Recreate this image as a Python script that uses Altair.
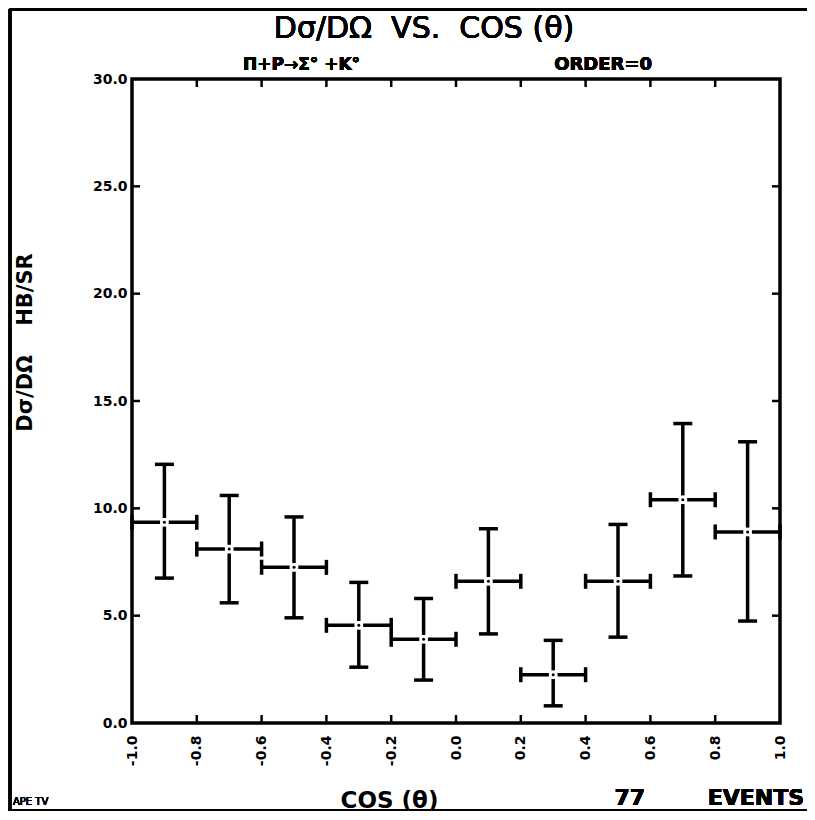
import altair as alt
import pandas as pd

# ---- data ----
cos_center = [-0.9, -0.7, -0.5, -0.3, -0.1, 0.1, 0.3, 0.5, 0.7, 0.9]
cos_low = [-1.0, -0.8, -0.6, -0.4, -0.2, 0.0, 0.2, 0.4, 0.6, 0.8]
cos_high = [-0.8, -0.6, -0.4, -0.2, 0.0, 0.2, 0.4, 0.6, 0.8, 1.0]
dsigma = [9.35, 8.1, 7.25, 4.55, 3.9, 6.6, 2.25, 6.6, 10.4, 8.9]
dsigma_low = [6.75, 5.6, 4.9, 2.6, 2.0, 4.15, 0.8, 4.0, 6.85, 4.75]
dsigma_high = [12.05, 10.6, 9.6, 6.55, 5.8, 9.05, 3.85, 9.25, 13.95, 13.1]
x_tick_values = [-1.0, -0.8, -0.6, -0.4, -0.2, 0.0, 0.2, 0.4, 0.6, 0.8, 1.0]
y_tick_values = [0.0, 5.0, 10.0, 15.0, 20.0, 25.0, 30.0]
x_inner_ticks = [-0.8, -0.6, -0.4, -0.2, 0.0, 0.2, 0.4, 0.6, 0.8]
y_inner_ticks = [5.0, 10.0, 15.0, 20.0, 25.0]

W, H = 648, 644
FONT = "DejaVu Sans"
NB = "\u00a0"

df = pd.DataFrame({
    "c": cos_center, "xl": cos_low, "xh": cos_high,
    "v": dsigma, "lo": dsigma_low, "hi": dsigma_high,
})
xt = pd.DataFrame({"t": x_inner_ticks})
yt = pd.DataFrame({"t": y_inner_ticks})

xs = alt.Scale(domain=[-1, 1], nice=False, zero=False)
ys = alt.Scale(domain=[0, 30], nice=False, zero=False)

xaxis = alt.Axis(
    values=x_tick_values, format=".1f", labelAngle=270, labelFlush=False,
    labelOverlap=False, labelFont=FONT, labelFontWeight="bold", labelFontSize=14,
    labelColor="black", labelPadding=12, ticks=False, domain=False, grid=False,
    labelExpr="replace(datum.label, '−', '-')",
    title="COS" + NB + "(θ)", titleFont=FONT, titleFontSize=23, titleFontWeight="bold",
    titleColor="black", titleX=257, titleY=84, titleAnchor="middle",
    titleBaseline="alphabetic", titleAlign="center",
)
yaxis = alt.Axis(
    values=y_tick_values, format=".1f", labelFlush=False, labelOverlap=False,
    labelFont=FONT, labelFontWeight="bold", labelFontSize=14, labelColor="black",
    labelPadding=5, ticks=False, domain=False, grid=False,
    title="Dσ/DΩ" + NB * 4 + "HB/SR", titleFont=FONT, titleFontSize=21, titleFontWeight="bold",
    titleColor="black", titleX=-107, titleY=263, titleAngle=270,
    titleBaseline="middle", titleAlign="center",
)

base = alt.Chart(df)
SW = 3.5

vbar = base.mark_rule(color="black", strokeWidth=SW).encode(
    x=alt.X("c:Q", scale=xs, axis=xaxis),
    y=alt.Y("lo:Q", scale=ys, axis=yaxis),
    y2="hi:Q",
)
hbar = base.mark_rule(color="black", strokeWidth=SW).encode(
    x=alt.X("xl:Q", scale=xs), x2="xh:Q", y=alt.Y("v:Q", scale=ys)
)
cap_top = base.mark_tick(orient="horizontal", color="black", size=19, thickness=SW, opacity=1).encode(
    x=alt.X("c:Q", scale=xs), y=alt.Y("hi:Q", scale=ys)
)
cap_bot = base.mark_tick(orient="horizontal", color="black", size=19, thickness=SW, opacity=1).encode(
    x=alt.X("c:Q", scale=xs), y=alt.Y("lo:Q", scale=ys)
)
cap_left = base.mark_tick(orient="vertical", color="black", size=15, thickness=SW, opacity=1).encode(
    x=alt.X("xl:Q", scale=xs), y=alt.Y("v:Q", scale=ys)
)
cap_right = base.mark_tick(orient="vertical", color="black", size=15, thickness=SW, opacity=1).encode(
    x=alt.X("xh:Q", scale=xs), y=alt.Y("v:Q", scale=ys)
)
gap = base.mark_square(size=75, color="white", opacity=1, strokeWidth=0).encode(
    x=alt.X("c:Q", scale=xs), y=alt.Y("v:Q", scale=ys)
)
dot = base.mark_circle(size=9, color="black", opacity=1).encode(
    x=alt.X("c:Q", scale=xs), y=alt.Y("v:Q", scale=ys)
)

TL = 8
xt_bot = alt.Chart(xt).mark_rule(color="black", strokeWidth=2.5).encode(
    x=alt.X("t:Q", scale=xs), y=alt.value(H), y2=alt.value(H - TL))
xt_top = alt.Chart(xt).mark_rule(color="black", strokeWidth=2.5).encode(
    x=alt.X("t:Q", scale=xs), y=alt.value(0), y2=alt.value(TL))
yt_left = alt.Chart(yt).mark_rule(color="black", strokeWidth=2.5).encode(
    y=alt.Y("t:Q", scale=ys), x=alt.value(0), x2=alt.value(TL))
yt_right = alt.Chart(yt).mark_rule(color="black", strokeWidth=2.5).encode(
    y=alt.Y("t:Q", scale=ys), x=alt.value(W), x2=alt.value(W - TL))

# page frame (top, left, bottom)
frame_top = alt.Chart(df).mark_rule(color="black", strokeWidth=3).encode(
    x=alt.value(-123), x2=alt.value(W + 27), y=alt.value(-70))
frame_left = alt.Chart(df).mark_rule(color="black", strokeWidth=2.5).encode(
    x=alt.value(-122), y=alt.value(-70), y2=alt.value(732))
frame_bot = alt.Chart(df).mark_rule(color="black", strokeWidth=2).encode(
    x=alt.value(-123), x2=alt.value(W + 27), y=alt.value(731))

def label(text, x, y, size, weight="bold", align="left", baseline="alphabetic"):
    return alt.Chart(df).mark_text(
        text=text, font=FONT, fontSize=size, fontWeight=weight, align=align,
        baseline=baseline, color="black",
    ).encode(x=alt.value(x), y=alt.value(y))

title = label("Dσ/DΩ" + NB * 2 + "VS." + NB * 2 + "COS" + NB + "(θ)", 292, -41, 30,
              weight="normal", align="center")
sub1 = label("Π+P→Σ°" + NB + "+K°", 111, -9, 17)
sub2 = label("ORDER=0", 520, -9, 18, align="right")
ape = label("APE" + NB + "TV", -119, 726, 10, weight="normal")
ev77 = label("77", 513, 726, 22, align="right")
events = label("EVENTS", 672, 726, 22, align="right")

chart = alt.layer(
    frame_top, frame_left, frame_bot,
    xt_bot, xt_top, yt_left, yt_right,
    vbar, hbar, cap_top, cap_bot, cap_left, cap_right, gap, dot,
    title, sub1, sub2, ape, ev77, events,
).properties(
    width=W, height=H,
    autosize=alt.AutoSizeParams(type="none"),
    padding={"left": 124, "top": 71, "right": 27, "bottom": 89},
    background="white",
).configure_view(stroke="black", strokeWidth=3.5)

chart.save("out.html", embed_options={"renderer": "svg", "actions": False})
